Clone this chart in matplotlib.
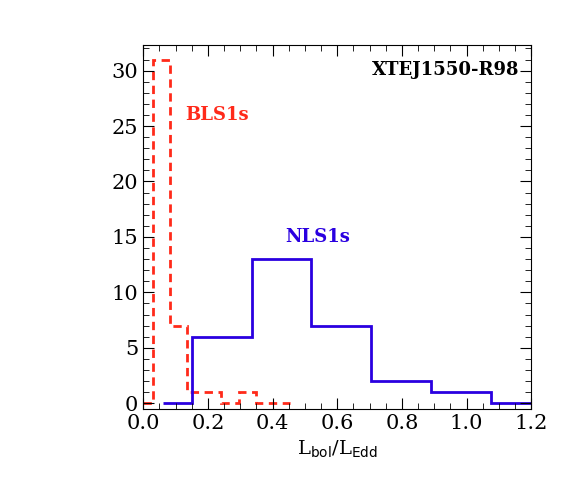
import numpy as np
import matplotlib
matplotlib.use("Agg")
import matplotlib.pyplot as plt
from matplotlib.ticker import MultipleLocator

# BLS1s (red dashed) histogram
bls_edges = [0.0, 0.03, 0.083, 0.136, 0.189, 0.242, 0.295, 0.348, 0.401, 0.454]
bls_counts = [0, 31, 7, 1, 1, 0, 1, 0, 0]
# NLS1s (blue solid) histogram
nls_edges = [0.06, 0.15, 0.335, 0.52, 0.705, 0.89, 1.075, 1.2]
nls_counts = [0, 6, 13, 7, 2, 1, 0]

plt.rcParams['font.family'] = 'DejaVu Serif'
fig = plt.figure(figsize=(5.73, 5.01), dpi=100)
ax = fig.add_axes([0.25, 0.184, 0.677, 0.726])

ax.stairs(bls_counts, bls_edges, color='#ff2a1a', linestyle=(0, (3, 2)), linewidth=2)
ax.stairs(nls_counts, nls_edges, color='#2a00e0', linewidth=2)

ax.set_xlim(0, 1.2)
ax.set_ylim(-0.5, 32.3)
ax.xaxis.set_major_locator(MultipleLocator(0.2))
ax.xaxis.set_minor_locator(MultipleLocator(0.05))
ax.yaxis.set_major_locator(MultipleLocator(5))
ax.yaxis.set_minor_locator(MultipleLocator(1))
ax.xaxis.set_major_formatter(plt.FuncFormatter(lambda v, p: f"{v:.1f}"))
ax.tick_params(which='both', direction='in', top=True, right=True, labelsize=15)
ax.tick_params(which='major', length=8)
ax.tick_params(which='minor', length=4)

ax.set_xlabel(r"L$_{\rm bol}$/L$_{\rm Edd}$", fontsize=14)
ax.text(0.97, 0.955, "XTEJ1550-R98", transform=ax.transAxes, ha='right', va='top',
        fontsize=13, fontweight='bold')
ax.text(0.13, 26, "BLS1s", color='#ff2a1a', fontsize=13, fontweight='bold', va='center')
ax.text(0.44, 15, "NLS1s", color='#2a00e0', fontsize=13, fontweight='bold', va='center')

fig.savefig("out.png", dpi=100)
